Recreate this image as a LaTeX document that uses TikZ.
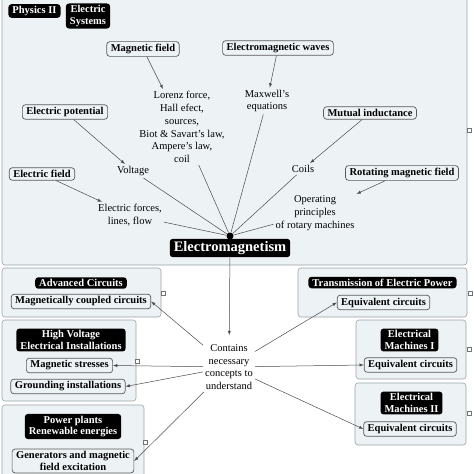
\documentclass[tikz,border=0pt]{standalone}
\usepackage{fontspec}
\setmainfont{Liberation Serif}
\definecolor{panelfill}{HTML}{EDF2F5}
\definecolor{panelline}{HTML}{9AA3A8}
\definecolor{linkgray}{HTML}{4A4A4A}
\begin{document}
\begin{tikzpicture}[x=1pt,y=-1pt,>=latex,
  panel/.style={draw=panelline,fill=panelfill,rounded corners=3pt,line width=0.6pt},
  concept/.style={draw=black!65,rounded corners=3pt,line width=0.7pt,align=center,
    inner xsep=4pt,inner ysep=2.5pt,font=\bfseries\fontsize{10.5}{11.5}\selectfont},
  header/.style={fill=black,text=white,rounded corners=3pt,align=center,
    inner xsep=4pt,inner ysep=2pt,font=\bfseries\fontsize{10.5}{11.5}\selectfont},
  link/.style={align=center,inner sep=2pt,font=\fontsize{10.5}{12.8}\selectfont},
  conn/.style={draw=linkgray,line width=0.5pt},
  icon/.style={draw=black!55,fill=white,inner sep=0pt,minimum size=4pt}]
\useasboundingbox (0,0) rectangle (474,474);
\clip (0,0) rectangle (474,474);

% panels
\draw[panel] (2,-5) rectangle (467,265);
\draw[panel] (2,268) rectangle (161,317);
\draw[panel] (298,268) rectangle (467,317);
\draw[panel] (2,320) rectangle (136,401);
\draw[panel] (356,320) rectangle (466,379);
\draw[panel] (355,383) rectangle (466,445);
\draw[panel] (2,405) rectangle (144,480);

\node[header] (phys) at (34.5,11) {Physics II};
\node[header] (esys) at (88,16) {Electric\\Systems};

% concepts round the hub
\node[concept] (mf)  at (143,49)  {Magnetic field};
\node[concept] (emw) at (278,48)  {Electromagnetic waves};
\node[concept] (ep)  at (65,112)  {Electric potential};
\node[concept] (mi)  at (370,113) {Mutual inductance};
\node[concept] (ef)  at (42,174)  {Electric field};
\node[concept] (rmf) at (402,173) {Rotating magnetic field};

\node[link] (lor)  at (182,127) {Lorenz force,\\Hall efect,\\sources,\\Biot \& Savart's law,\\Ampere's law,\\coil};
\node[link] (mx)   at (267,101) {Maxwell's\\equations};
\node[link] (volt) at (133,171) {Voltage};
\node[link] (coil) at (303,169) {Coils};
\node[link] (efl)  at (130,215) {Electric forces,\\lines, flow};
\node[link] (orm)  at (315,213) {Operating\\principles\\of rotary machines};

\node[circle,fill=black,inner sep=0pt,minimum size=7pt] (hub) at (230,236) {};
\node[header,font=\bfseries\fontsize{14.5}{16}\selectfont,inner ysep=2.5pt] (em) at (230,248) {Electromagnetism};

\draw[conn,->] (mf) -- (lor);
\draw[conn,->] (emw) -- (mx);
\draw[conn,->] (ep) -- (volt);
\draw[conn,->] (mi) -- (coil);
\draw[conn,->] (ef) -- (efl);
\draw[conn,->] (rmf) -- (orm);
\foreach \t in {lor,mx,volt,coil,efl,orm}
  \draw[conn] (\t) -- (hub);

% courses
\node[header] (hac) at (81,283)      {Advanced Circuits};
\node[concept] (mcc) at (81,301.5)   {Magnetically coupled circuits};
\node[header] (htr) at (382.5,282.5) {Transmission of Electric Power};
\node[concept] (eq1) at (383.5,302.5){Equivalent circuits};
\node[header] (hhv) at (71,340)      {High Voltage\\Electrical Installations};
\node[concept] (mst) at (69.5,365.5) {Magnetic stresses};
\node[concept] (gri) at (68,386.5)   {Grounding installations};
\node[header] (hm1) at (409.5,340)   {Electrical\\Machines I};
\node[concept] (eq2) at (410.5,365)  {Equivalent circuits};
\node[header] (hm2) at (411.5,403)   {Electrical\\Machines II};
\node[concept] (eq3) at (410,429)    {Equivalent circuits};
\node[header] (hpp) at (73,426.5)    {Power plants\\Renewable energies};
\node[concept] (gen) at (73,461)     {Generators and magnetic\\field excitation};

\foreach \p/\n in {{(469,130)}/i1,{(163,293)}/i2,{(470,293)}/i3,{(137,361)}/i4,{(469,349)}/i5,{(145,442)}/i6,{(469,413)}/i7}
  \node[icon] (\n) at \p {};

\node[link] (cont) at (229,367) {Contains\\necessary\\concepts to\\understand};
\draw[conn,->,shorten >=7pt] (em) -- (cont);
\draw[conn,->] (cont) -- (mcc.east);
\draw[conn,->] (cont) -- (eq1.west);
\draw[conn,->] (cont) -- (mst.east);
\draw[conn,->] (cont) -- (eq2.west);
\draw[conn,->] (cont) -- (gri.east);
\draw[conn,->] (cont) -- (eq3.west);
\draw[conn,->] (cont) -- (gen.east);
\end{tikzpicture}
\end{document}
